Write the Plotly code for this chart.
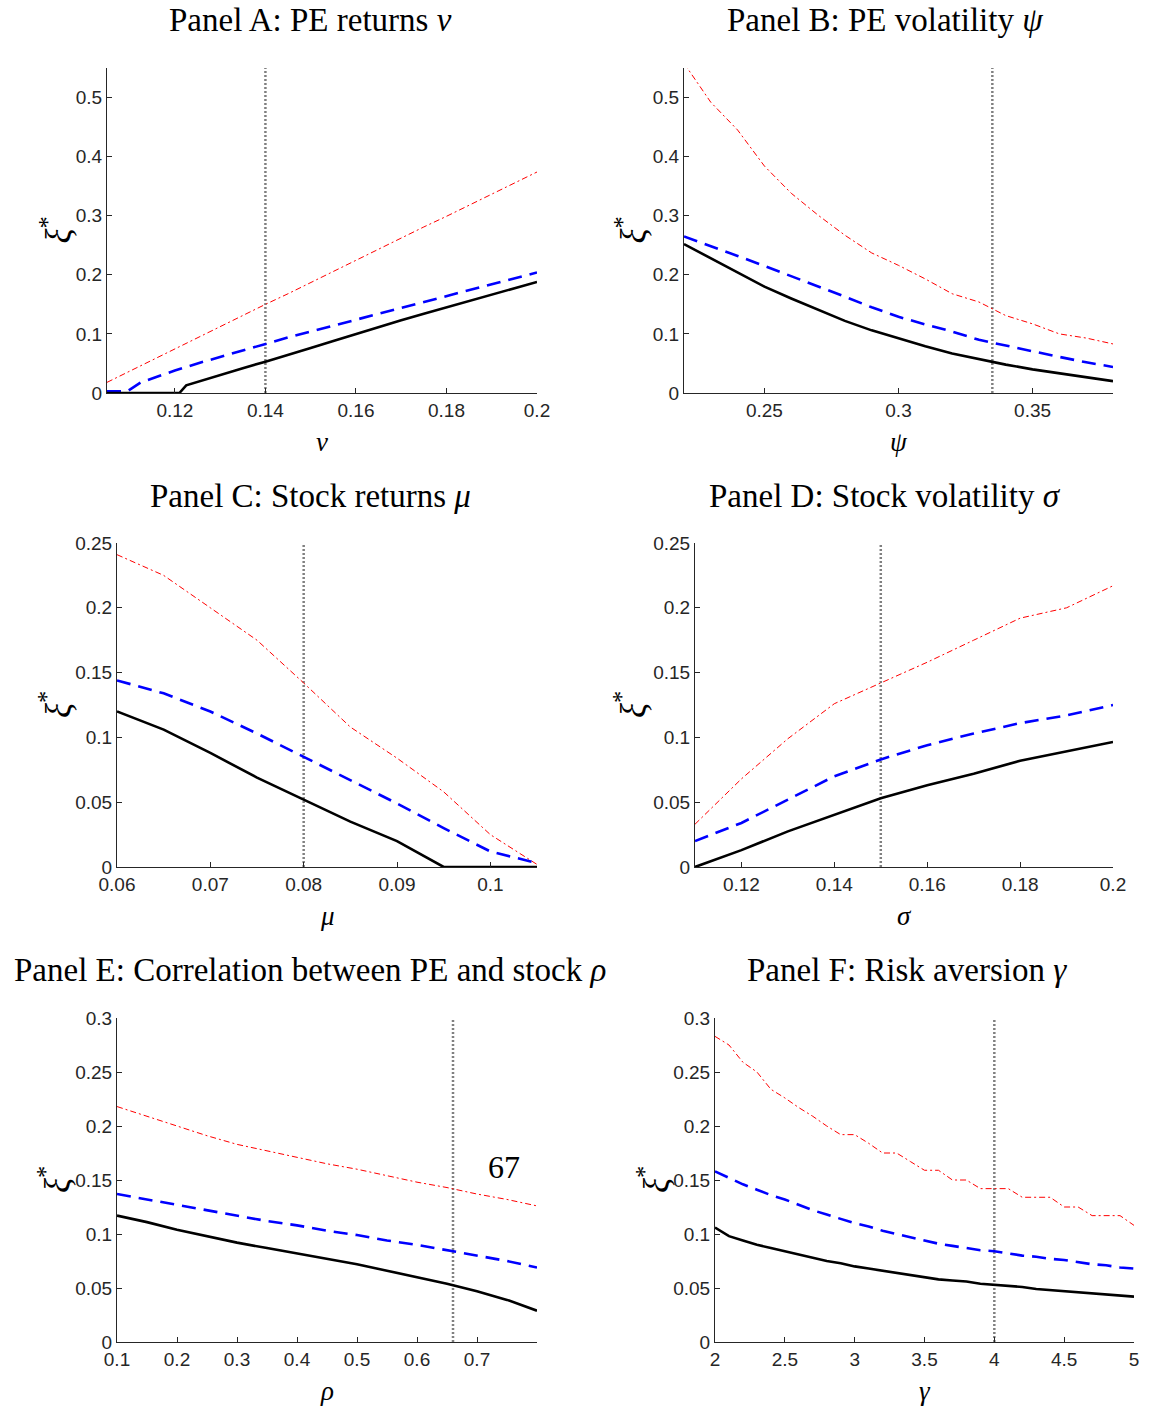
import plotly.graph_objects as go

# ---------------- data ----------------
# Panel A: PE returns nu
a_x_red = [0.105, 0.11, 0.115, 0.12, 0.125, 0.13, 0.135, 0.14, 0.145, 0.15,
           0.155, 0.16, 0.165, 0.17, 0.175, 0.18, 0.185, 0.19, 0.195, 0.2]
a_red = [0.018, 0.037, 0.055, 0.074, 0.093, 0.112, 0.131, 0.150, 0.168, 0.187,
         0.206, 0.225, 0.243, 0.262, 0.281, 0.299, 0.318, 0.337, 0.356, 0.374]
a_x_blue = [0.105, 0.1095, 0.1125, 0.115, 0.12, 0.125, 0.13, 0.135, 0.14, 0.145,
            0.15, 0.155, 0.16, 0.165, 0.17, 0.175, 0.18, 0.185, 0.19, 0.195, 0.2]
a_blue = [0.003, 0.003, 0.018, 0.025, 0.038, 0.050, 0.061, 0.073, 0.084, 0.094,
          0.104, 0.114, 0.123, 0.133, 0.143, 0.153, 0.163, 0.173, 0.184, 0.194, 0.204]
a_x_black = [0.105, 0.121, 0.1225, 0.125, 0.13, 0.135, 0.14, 0.145, 0.15, 0.155,
             0.16, 0.165, 0.17, 0.175, 0.18, 0.185, 0.19, 0.195, 0.2]
a_black = [0.0, 0.0, 0.013, 0.019, 0.031, 0.042, 0.053, 0.064, 0.076, 0.088,
           0.100, 0.111, 0.123, 0.134, 0.145, 0.156, 0.167, 0.178, 0.188]
a_base = 0.14

# Panel B: PE volatility psi
b_x = [0.22, 0.23, 0.24, 0.25, 0.26, 0.27, 0.28, 0.29, 0.30, 0.31, 0.32, 0.33,
       0.34, 0.35, 0.36, 0.37, 0.38]
b_red = [0.558, 0.492, 0.445, 0.384, 0.338, 0.301, 0.267, 0.237, 0.216, 0.193,
         0.168, 0.154, 0.131, 0.117, 0.100, 0.093, 0.083]
b_blue = [0.265, 0.249, 0.232, 0.215, 0.198, 0.181, 0.163, 0.145, 0.129, 0.116,
          0.104, 0.090, 0.080, 0.070, 0.061, 0.052, 0.044]
b_black = [0.252, 0.228, 0.203, 0.180, 0.160, 0.141, 0.122, 0.106, 0.092, 0.079,
           0.067, 0.057, 0.048, 0.040, 0.033, 0.026, 0.020]
b_base = 0.335

# Panel C: Stock returns mu
c_x = [0.06, 0.065, 0.07, 0.075, 0.08, 0.085, 0.09, 0.095, 0.1, 0.105]
c_red = [0.241, 0.225, 0.200, 0.175, 0.142, 0.108, 0.084, 0.058, 0.025, 0.002]
c_blue = [0.144, 0.134, 0.120, 0.103, 0.085, 0.067, 0.049, 0.030, 0.012, 0.003]
c_black = [0.120, 0.106, 0.088, 0.069, 0.052, 0.035, 0.020, 0.0, 0.0, 0.0]
c_base = 0.08

# Panel D: Stock volatility sigma
d_x = [0.11, 0.12, 0.13, 0.14, 0.15, 0.16, 0.17, 0.18, 0.19, 0.2]
d_red = [0.033, 0.068, 0.099, 0.126, 0.142, 0.158, 0.175, 0.192, 0.200, 0.217]
d_blue = [0.020, 0.034, 0.052, 0.070, 0.083, 0.094, 0.103, 0.111, 0.117, 0.125]
d_black = [0.0, 0.013, 0.0275, 0.040, 0.053, 0.063, 0.072, 0.082, 0.089, 0.0965]
d_base = 0.15

# Panel E: Correlation rho
e_x = [0.1, 0.15, 0.2, 0.25, 0.3, 0.35, 0.4, 0.45, 0.5, 0.55, 0.6, 0.65, 0.7, 0.75, 0.8]
e_red = [0.218, 0.209, 0.200, 0.191, 0.183, 0.177, 0.171, 0.165, 0.160, 0.154,
         0.148, 0.143, 0.137, 0.132, 0.126]
e_blue = [0.137, 0.132, 0.127, 0.122, 0.117, 0.112, 0.108, 0.103, 0.099, 0.094,
          0.090, 0.085, 0.080, 0.075, 0.069]
e_black = [0.117, 0.111, 0.104, 0.098, 0.092, 0.087, 0.082, 0.077, 0.072, 0.066,
           0.060, 0.054, 0.047, 0.039, 0.029]
e_base = 0.66
e_note = "67"

# Panel F: Risk aversion gamma
f_x = [2.0, 2.1, 2.2, 2.3, 2.4, 2.5, 2.6, 2.7, 2.8, 2.9, 3.0, 3.1, 3.2, 3.3, 3.4, 3.5,
       3.6, 3.7, 3.8, 3.9, 4.0, 4.1, 4.2, 4.3, 4.4, 4.5, 4.6, 4.7, 4.8, 4.9, 5.0]
f_red = [0.283, 0.275, 0.259, 0.250, 0.234, 0.226, 0.217, 0.209, 0.200, 0.192, 0.192,
         0.184, 0.175, 0.175, 0.167, 0.159, 0.159, 0.150, 0.150, 0.142, 0.142, 0.142,
         0.134, 0.134, 0.134, 0.125, 0.125, 0.117, 0.117, 0.117, 0.108]
f_blue = [0.158, 0.152, 0.146, 0.141, 0.136, 0.132, 0.127, 0.122, 0.118, 0.114, 0.110,
          0.107, 0.103, 0.100, 0.097, 0.094, 0.091, 0.089, 0.087, 0.085, 0.084, 0.082,
          0.080, 0.079, 0.077, 0.076, 0.074, 0.072, 0.071, 0.069, 0.068]
f_black = [0.106, 0.098, 0.094, 0.090, 0.087, 0.084, 0.081, 0.078, 0.075, 0.073, 0.070,
           0.068, 0.066, 0.064, 0.062, 0.060, 0.058, 0.057, 0.056, 0.054, 0.053, 0.052,
           0.051, 0.049, 0.048, 0.047, 0.046, 0.045, 0.044, 0.043, 0.042]
f_base = 4.0

titles = ["Panel A: PE returns <i>ν</i>", "Panel B: PE volatility <i>ψ</i>",
          "Panel C: Stock returns <i>μ</i>", "Panel D: Stock volatility <i>σ</i>",
          "Panel E: Correlation between PE and stock <i>ρ</i>",
          "Panel F: Risk aversion <i>γ</i>"]
xlabels = ["ν", "ψ", "μ", "σ", "ρ", "γ"]
ylabel = "<i>ξ</i><sup>*</sup>"

a_xticks = [0.12, 0.14, 0.16, 0.18, 0.2]
a_xtext = ["0.12", "0.14", "0.16", "0.18", "0.2"]
b_xticks = [0.25, 0.3, 0.35]
b_xtext = ["0.25", "0.3", "0.35"]
c_xticks = [0.06, 0.07, 0.08, 0.09, 0.1]
c_xtext = ["0.06", "0.07", "0.08", "0.09", "0.1"]
d_xticks = [0.12, 0.14, 0.16, 0.18, 0.2]
d_xtext = ["0.12", "0.14", "0.16", "0.18", "0.2"]
e_xticks = [0.1, 0.2, 0.3, 0.4, 0.5, 0.6, 0.7]
e_xtext = ["0.1", "0.2", "0.3", "0.4", "0.5", "0.6", "0.7"]
f_xticks = [2, 2.5, 3, 3.5, 4, 4.5, 5]
f_xtext = ["2", "2.5", "3", "3.5", "4", "4.5", "5"]

ab_yticks = [0, 0.1, 0.2, 0.3, 0.4, 0.5]
ab_ytext = ["0", "0.1", "0.2", "0.3", "0.4", "0.5"]
cd_yticks = [0, 0.05, 0.1, 0.15, 0.2, 0.25]
cd_ytext = ["0", "0.05", "0.1", "0.15", "0.2", "0.25"]
ef_yticks = [0, 0.05, 0.1, 0.15, 0.2, 0.25, 0.3]
ef_ytext = ["0", "0.05", "0.1", "0.15", "0.2", "0.25", "0.3"]

# ---------------- layout ----------------
W, H = 1152, 1406
panels = [
    dict(xr=[0.105, 0.2], yr=[0, 0.55], box=(107, 537, 68, 393),
         red=(a_x_red, a_red), blue=(a_x_blue, a_blue), black=(a_x_black, a_black),
         base=a_base, xt=(a_xticks, a_xtext), yt=(ab_yticks, ab_ytext),
         tx=310, ty=20, ylx=56),
    dict(xr=[0.22, 0.38], yr=[0, 0.55], box=(684, 1113, 68, 393),
         red=(b_x, b_red), blue=(b_x, b_blue), black=(b_x, b_black),
         base=b_base, xt=(b_xticks, b_xtext), yt=(ab_yticks, ab_ytext),
         tx=885, ty=20, ylx=631),
    dict(xr=[0.06, 0.105], yr=[0, 0.25], box=(117, 537, 543, 867),
         red=(c_x, c_red), blue=(c_x, c_blue), black=(c_x, c_black),
         base=c_base, xt=(c_xticks, c_xtext), yt=(cd_yticks, cd_ytext),
         tx=310, ty=496, ylx=56),
    dict(xr=[0.11, 0.2], yr=[0, 0.25], box=(695, 1113, 543, 867),
         red=(d_x, d_red), blue=(d_x, d_blue), black=(d_x, d_black),
         base=d_base, xt=(d_xticks, d_xtext), yt=(cd_yticks, cd_ytext),
         tx=885, ty=496, ylx=631),
    dict(xr=[0.1, 0.8], yr=[0, 0.3], box=(117, 537, 1018, 1342),
         red=(e_x, e_red), blue=(e_x, e_blue), black=(e_x, e_black),
         base=e_base, xt=(e_xticks, e_xtext), yt=(ef_yticks, ef_ytext),
         tx=310, ty=970, ylx=54),
    dict(xr=[2, 5], yr=[0, 0.3], box=(715, 1134, 1018, 1342),
         red=(f_x, f_red), blue=(f_x, f_blue), black=(f_x, f_black),
         base=f_base, xt=(f_xticks, f_xtext), yt=(ef_yticks, ef_ytext),
         tx=907, ty=970, ylx=653),
]

AXC = "#262626"
TICKFONT = dict(family="Liberation Sans, Arial, sans-serif", size=19, color=AXC)
SERIF = "Liberation Serif, Times New Roman, serif"

fig = go.Figure()
layout = dict(width=W, height=H, margin=dict(l=0, r=0, t=0, b=0, pad=0, autoexpand=False),
              paper_bgcolor="white", plot_bgcolor="white", showlegend=False)
annotations = []

for i, p in enumerate(panels):
    n = "" if i == 0 else str(i + 1)
    xa, ya = "x" + n, "y" + n
    x0, x1, yt_, yb = p["box"]
    layout["xaxis" + n] = dict(
        domain=[x0 / W, x1 / W], range=p["xr"], anchor=ya, automargin=False,
        showline=True, linecolor=AXC, linewidth=1, showgrid=False, zeroline=False,
        ticks="inside", ticklen=5, tickcolor=AXC, tickwidth=1,
        tickvals=p["xt"][0], ticktext=p["xt"][1], tickfont=TICKFONT)
    layout["yaxis" + n] = dict(
        domain=[1 - yb / H, 1 - yt_ / H], range=p["yr"], anchor=xa, automargin=False,
        showline=True, linecolor=AXC, linewidth=1, showgrid=False, zeroline=False,
        ticks="inside", ticklen=5, tickcolor=AXC, tickwidth=1,
        tickvals=p["yt"][0], ticktext=p["yt"][1], tickfont=TICKFONT)

    # vertical benchmark line
    fig.add_trace(go.Scatter(x=[p["base"], p["base"]], y=[p["yr"][0], p["yr"][1]],
                             mode="lines", xaxis=xa, yaxis=ya, hoverinfo="skip",
                             line=dict(color="#808080", width=2.5, dash="2px,2px")))
    fig.add_trace(go.Scatter(x=p["red"][0], y=p["red"][1], mode="lines",
                             xaxis=xa, yaxis=ya,
                             line=dict(color="#ff0000", width=1, dash="6px,3px,2px,3px")))
    fig.add_trace(go.Scatter(x=p["blue"][0], y=p["blue"][1], mode="lines",
                             xaxis=xa, yaxis=ya,
                             line=dict(color="#0000ff", width=2.6, dash="14px,8px")))
    fig.add_trace(go.Scatter(x=p["black"][0], y=p["black"][1], mode="lines",
                             xaxis=xa, yaxis=ya,
                             line=dict(color="#000000", width=2.6)))

    # title
    annotations.append(dict(text=titles[i], x=p["tx"] / W, y=1 - p["ty"] / H,
                            xref="paper", yref="paper", showarrow=False,
                            xanchor="center", yanchor="middle",
                            font=dict(family=SERIF, size=33, color="#000000")))
    # x label
    annotations.append(dict(text="<i>" + xlabels[i] + "</i>",
                            x=(x0 + x1) / 2 / W, y=1 - (yb + 49) / H,
                            xref="paper", yref="paper", showarrow=False,
                            xanchor="center", yanchor="middle",
                            font=dict(family=SERIF, size=27, color="#000000")))
    # y label
    annotations.append(dict(text=ylabel, x=p["ylx"] / W, y=1 - ((yt_ + yb) / 2) / H,
                            xref="paper", yref="paper", showarrow=False,
                            textangle=-90, xanchor="center", yanchor="middle",
                            font=dict(family=SERIF, size=35, color="#000000")))

# stray label in panel E
annotations.append(dict(text=e_note, x=0.745, y=0.162, xref="x5", yref="y5",
                        showarrow=False, xanchor="center", yanchor="middle",
                        font=dict(family=SERIF, size=32, color="#000000")))

layout["annotations"] = annotations
fig.update_layout(**layout)
fig.write_html("out.html")
